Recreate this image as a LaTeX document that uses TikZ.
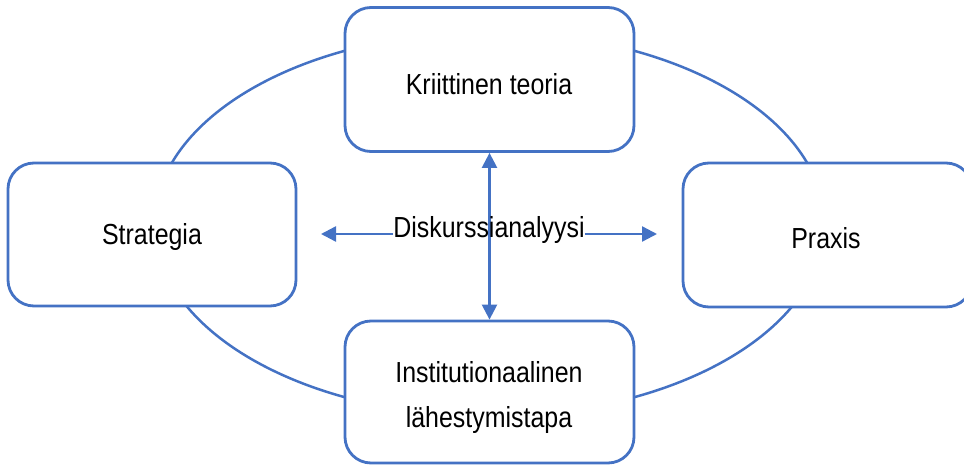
\documentclass[tikz,border=0pt]{standalone}
\usepackage{fontspec}
\setmainfont[FakeStretch=0.86]{Liberation Sans}
\usetikzlibrary{arrows.meta}
\definecolor{frameblue}{HTML}{4472C4}
\tikzset{
  card/.style={draw=frameblue, line width=2.8pt, fill=white, rounded corners=26pt, inner sep=0pt},
  lbl/.style={font=\fontsize{29}{45}\selectfont, inner sep=0pt, text=black},
  tip/.style={Triangle[length=15pt,width=15pt]},
  link/.style={draw=frameblue, line width=2.4pt, {Triangle[length=15pt,width=15pt]}-{Triangle[length=15pt,width=15pt]}},
  ray/.style={draw=frameblue, line width=2.4pt, -{Triangle[length=15pt,width=15pt]}}
}
\begin{document}
\begin{tikzpicture}[x=1pt,y=-1pt]
\useasboundingbox (0,0) rectangle (964,465);
% outer cycle
\draw[frameblue, line width=2.5pt] (489.5,224) ellipse [x radius=335, y radius=192];
% four cards
\node[card, minimum width=289pt, minimum height=144pt] (top) at (489.5,79.5) {};
\node[card, minimum width=288pt, minimum height=143pt] (left) at (152,234.5) {};
\node[card, minimum width=289pt, minimum height=144pt] (right) at (827.5,235) {};
\node[card, minimum width=289pt, minimum height=142pt] (bot) at (489.5,392) {};
% labels
\node[lbl, anchor=base] (ttop) at (489,94.5) {Kriittinen teoria};
\node[lbl, anchor=base] (tleft) at (152,245) {Strategia};
\node[lbl, anchor=base] (tright) at (826,248) {Praxis};
\node[lbl, align=center] (tbot) at (489,397.2) {Institutionaalinen\\lähestymistapa};
% centre label and arrows
\draw[link] (top.south) -- (bot.north);
\node[lbl, anchor=base] (dk) at (489,237.5) {Diskurssianalyysi};
\coordinate (lt) at (321,234);
\coordinate (rt) at (657,234);
\draw[ray] (dk.west |- lt) -- (lt);
\draw[ray] (dk.east |- rt) -- (rt);
\end{tikzpicture}
\end{document}
